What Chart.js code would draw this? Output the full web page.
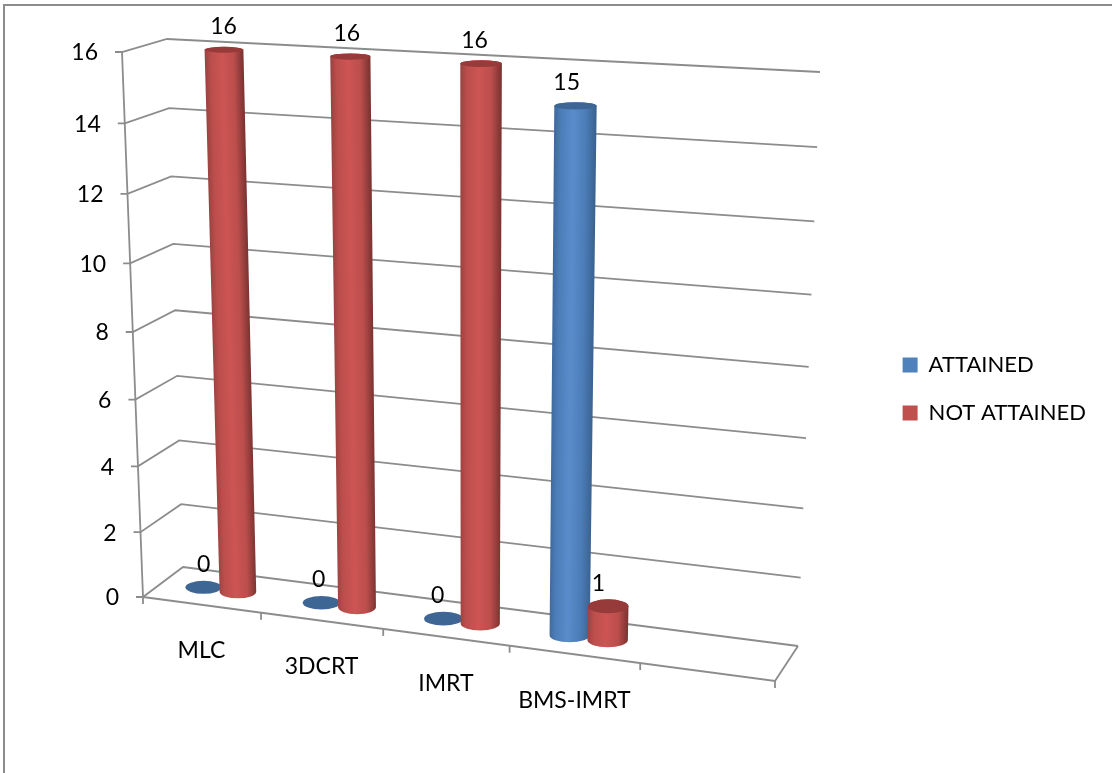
<!DOCTYPE html>
<html>
<head>
<meta charset="utf-8">
<title>Dose attainment</title>
<script src="https://cdn.jsdelivr.net/npm/chart.js@4"></script>
<style>
  html, body { margin: 0; padding: 0; background: #fff; }
  #wrap { position: relative; width: 1112px; height: 773px; overflow: hidden; }
  #frame { position: absolute; left: 3px; top: 4px; right: -4px; bottom: -4px; border: 2px solid #8c8c8c; }
  canvas { position: absolute; left: 0; top: 0; }
</style>
</head>
<body>
<div id="wrap">
  <canvas id="chart" width="1112" height="773"></canvas>
  <div id="frame"></div>
</div>
<script>
const categories = ['MLC', '3DCRT', 'IMRT', 'BMS-IMRT', ''];
const attained = [0, 0, 0, 15, null];
const notAttained = [16, 16, 16, 1, null];
const seriesNames = ['ATTAINED', 'NOT ATTAINED'];
const yMax = 16;
const yStep = 2;

const LABEL_FONT = '23px Lato, sans-serif';
const GRID_COLOR = '#8c8c8c';

// shading per base colour: edge, mid, highlight, far edge, cap
const SHADES = {
  '#4f81bd': ['#3e699e', '#4c7db8', '#5a8ccc', '#3a6290', '#3d6695'],
  '#c0504d': ['#9c4341', '#bb4e4c', '#cd5553', '#7a3331', '#963b39'],
};

// corners of the 3D box on the canvas
const FRONT = { bl: [143, 597], br: [775, 681], tl: [122, 52], tr: [792, 90] };
const BACK = { bl: [183, 567], br: [798, 646], tl: [167, 39], tr: [820, 72] };
const WARP_X = 0.083; // perspective squeeze along the floor
const WARP_Y = 0.055; // and up the wall
const BAR_DEPTH = 0.5; // bars stand halfway into the box
const CYL_DEPTH = 0.215; // cylinder radius as a share of the box depth
const CYL_FATTEN = 1.06;

const mix = (a, b, t) => a + (b - a) * t;

function corner(face, u, v, axis) {
  return mix(mix(face.bl[axis], face.br[axis], u), mix(face.tl[axis], face.tr[axis], u), v);
}

// scale pixels -> box position, w = 0 front, w = 1 back
function project(chart, px, py, w) {
  const area = chart.chartArea;
  let u = (px - area.left) / area.width;
  let v = (area.bottom - py) / area.height;
  u -= WARP_X * u * (1 - u);
  v -= WARP_Y * v * (1 - v);
  return {
    x: mix(corner(FRONT, u, v, 0), corner(BACK, u, v, 0), w),
    y: mix(corner(FRONT, u, v, 1), corner(BACK, u, v, 1), w),
  };
}

class Cylinder extends Chart.BarElement {
  static id = 'cylinder';

  // centre and radii of the disc at one height of the bar
  disc(chart, px, py, halfWidth) {
    const c = project(chart, px, py, BAR_DEPTH);
    const l = project(chart, px - halfWidth, py, BAR_DEPTH);
    const r = project(chart, px + halfWidth, py, BAR_DEPTH);
    const f = project(chart, px, py, 0);
    const b = project(chart, px, py, 1);
    return { x: c.x, y: c.y, rx: (r.x - l.x) / 2 * CYL_FATTEN, ry: (f.y - b.y) * CYL_DEPTH };
  }

  draw(ctx) {
    const { x, y, base, width } = this.getProps(['x', 'y', 'base', 'width']);
    const chart = this.$chart;
    const shade = SHADES[this.options.backgroundColor];
    const top = this.disc(chart, x, y, width / 2);
    const bottom = this.disc(chart, x, base, width / 2);

    ctx.save();
    if (bottom.y - top.y > 1) {
      const dx = bottom.x - top.x;
      const dy = bottom.y - top.y;
      const len = Math.hypot(dx, dy);
      const nx = dy / len;
      const ny = -dx / len;
      const mx = (top.x + bottom.x) / 2;
      const my = (top.y + bottom.y) / 2;
      const r = (top.rx + bottom.rx) / 2;
      const grad = ctx.createLinearGradient(mx - nx * r, my - ny * r, mx + nx * r, my + ny * r);
      grad.addColorStop(0, shade[0]);
      grad.addColorStop(0.15, shade[1]);
      grad.addColorStop(0.45, shade[2]);
      grad.addColorStop(0.75, shade[1]);
      grad.addColorStop(1, shade[3]);
      ctx.fillStyle = grad;
      ctx.beginPath();
      ctx.moveTo(top.x - top.rx, top.y);
      ctx.lineTo(bottom.x - bottom.rx, bottom.y);
      ctx.ellipse(bottom.x, bottom.y, bottom.rx, bottom.ry, 0, Math.PI, 0, true);
      ctx.lineTo(top.x + top.rx, top.y);
      ctx.ellipse(top.x, top.y, top.rx, top.ry, 0, 0, Math.PI, true);
      ctx.closePath();
      ctx.fill();
    }
    ctx.fillStyle = shade[4];
    ctx.beginPath();
    ctx.ellipse(top.x, top.y, top.rx, top.ry, 0, 0, Math.PI * 2);
    ctx.fill();
    ctx.restore();
  }
}

class CylinderController extends Chart.BarController {
  static id = 'cylinder';
  static defaults = { dataElementType: 'cylinder' };
  static overrides = Chart.BarController.overrides;

  updateElements(rects, start, count, mode) {
    super.updateElements(rects, start, count, mode);
    rects.forEach(r => { r.$chart = this.chart; });
  }
}

Chart.register(Cylinder, CylinderController);

function line(ctx, pts) {
  ctx.beginPath();
  pts.forEach((p, i) => (i ? ctx.lineTo(p.x, p.y) : ctx.moveTo(p.x, p.y)));
  ctx.stroke();
}

function drawBox(chart) {
  const { ctx, chartArea: area, scales: { x: xs, y: ys } } = chart;
  ctx.save();
  ctx.strokeStyle = GRID_COLOR;
  ctx.lineWidth = 1.8;
  ctx.font = LABEL_FONT;
  ctx.fillStyle = '#000';
  ctx.textBaseline = 'middle';

  // wall gridlines, each with its tick and label
  ctx.textAlign = 'right';
  ys.ticks.forEach(t => {
    const py = ys.getPixelForValue(t.value);
    const front = project(chart, area.left, py, 0);
    const back = project(chart, area.left, py, 1);
    const right = project(chart, area.right, py, 1);
    line(ctx, [{ x: front.x - 7, y: front.y }, front, back, right]);
    ctx.fillText(t.label, front.x - 24, front.y + 1);
  });

  // floor outline and vertical axis
  const fl = project(chart, area.left, area.bottom, 0);
  const fr = project(chart, area.right, area.bottom, 0);
  const br = project(chart, area.right, area.bottom, 1);
  line(ctx, [fl, fr, br]);
  line(ctx, [project(chart, area.left, area.top, 0), fl]);

  // category ticks sit on the boundaries, names under the middle
  categories.forEach((name, i) => {
    const p = project(chart, xs.getPixelForValue(i - 0.5), area.bottom, 0);
    line(ctx, [p, { x: p.x, y: p.y + 7 }]);
  });
  line(ctx, [fr, { x: fr.x, y: fr.y + 7 }]);

  ctx.textAlign = 'center';
  categories.forEach((name, i) => {
    const p = project(chart, xs.getPixelForTick(i), area.bottom, 0);
    ctx.fillText(name, p.x, p.y + 46);
  });
  ctx.restore();
}

function drawValues(chart) {
  const { ctx } = chart;
  ctx.save();
  ctx.font = LABEL_FONT;
  ctx.fillStyle = '#000';
  ctx.textAlign = 'center';
  ctx.textBaseline = 'middle';
  chart.data.datasets.forEach((ds, d) => {
    chart.getDatasetMeta(d).data.forEach((el, i) => {
      if (ds.data[i] === null) return;
      const p = project(chart, el.x, el.y, BAR_DEPTH);
      ctx.fillText(String(ds.data[i]), p.x - (p.x - 205) / 42, p.y - 23);
    });
  });
  ctx.restore();
}

const boxPlugin = {
  id: 'box3d',
  // series go front to back in dataset order so the red sits over the blue
  beforeDatasetsDraw(chart) {
    drawBox(chart);
    chart.data.datasets.forEach((ds, d) => chart.getDatasetMeta(d).controller.draw());
    drawValues(chart);
    return false;
  },
};

new Chart(document.getElementById('chart'), {
  type: 'cylinder',
  data: {
    labels: categories,
    datasets: [
      { label: seriesNames[0], data: attained, backgroundColor: '#4f81bd' },
      { label: seriesNames[1], data: notAttained, backgroundColor: '#c0504d' },
    ],
  },
  options: {
    responsive: false,
    animation: false,
    events: [],
    categoryPercentage: 0.59,
    barPercentage: 1,
    layout: { padding: { top: 5, right: 16 } },
    scales: {
      x: { display: false },
      y: { display: false, min: 0, max: yMax, ticks: { stepSize: yStep } },
    },
    plugins: {
      tooltip: { enabled: false },
      legend: {
        position: 'right',
        labels: {
          boxWidth: 15,
          boxHeight: 15,
          padding: 26,
          color: '#000',
          font: { family: 'Lato, sans-serif', size: 22 },
        },
      },
    },
  },
  plugins: [boxPlugin],
});
</script>
</body>
</html>
